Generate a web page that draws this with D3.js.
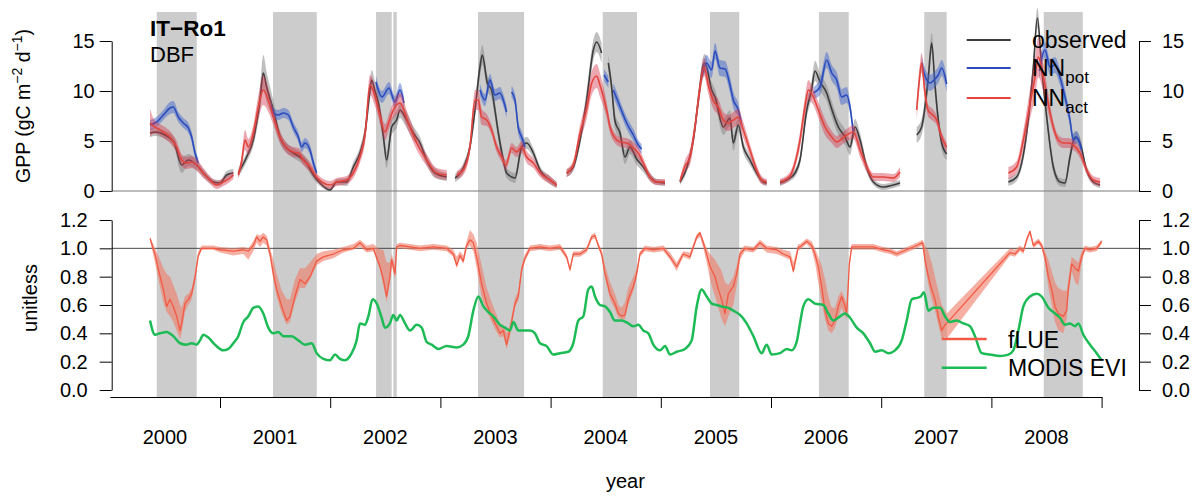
<!DOCTYPE html>
<html>
<head>
<meta charset="utf-8">
<script src="https://cdn.jsdelivr.net/npm/d3@7"></script>
<style>
  body { margin: 0; background: #fff; }
  text { font-family: "Liberation Sans", Arial, Helvetica, sans-serif; fill: #000; }
</style>
</head>
<body>
<svg id="chart" width="1201" height="496"></svg>
<script>
// ---- site / labels ----
const siteName = "IT\u2212Ro1";
const pftName = "DBF";
const yearLabels = [2000, 2001, 2002, 2003, 2004, 2005, 2006, 2007, 2008];
const yearBreaks = [2001, 2002, 2003, 2004, 2005, 2006, 2007, 2008, 2009];
const gppTicks = [0, 5, 10, 15];
const unitTicks = [0, 0.2, 0.4, 0.6, 0.8, 1.0, 1.2];

// ---- drought periods (decimal year) ----
const droughtStart = [2000.426, 2001.481, 2002.416, 2002.573, 2003.341, 2004.473, 2005.446, 2006.435, 2007.391, 2008.475];
const droughtEnd   = [2000.789, 2001.878, 2002.558, 2002.604, 2003.759, 2004.784, 2005.712, 2006.705, 2007.594, 2008.829];

// ---- GPP series: [decimal year, value, half-range]; null = data gap ----
const gppObserved = [
 [2000.365,5.8,0.4],[2000.416,5.9,0.4],[2000.501,5.6,0.4],[2000.582,4.9,0.5],[2000.652,2.6,0.8],[2000.713,3.1,0.6],[2000.788,2.6,0.5],[2000.849,1.8,0.4],[2000.939,0.9,0.3],[2001.000,0.8,0.3],[2001.060,1.6,0.4],[2001.121,1.8,0.4],
 null,
 [2001.166,1.8,0.4],[2001.242,3.4,0.5],[2001.302,5.1,0.6],[2001.363,9.1,1.2],[2001.393,11.8,1.8],[2001.423,10.4,1.5],[2001.484,8.1,1.0],[2001.544,5.4,0.6],[2001.605,4.3,0.5],[2001.665,3.8,0.5],[2001.726,3.4,0.5],[2001.786,2.8,0.5],[2001.847,1.6,0.4],[2001.907,0.8,0.3],[2001.998,0.1,0.3],[2002.059,0.9,0.3],[2002.149,0.9,0.4],[2002.210,2.4,0.5],[2002.270,3.8,0.6],[2002.316,5.8,0.8],[2002.355,9.5,1.0],[2002.376,11.1,1.0],[2002.406,10.0,1.0],[2002.437,8.8,1.0],[2002.482,5.5,0.8],[2002.512,3.1,0.8],[2002.558,6.4,0.8],[2002.603,7.1,0.8],[2002.633,8.1,0.8],[2002.679,7.4,0.8],[2002.754,5.8,0.7],[2002.815,4.8,0.6],[2002.875,3.1,0.5],[2002.951,1.8,0.5],[2003.057,1.4,0.4],
 null,
 [2003.133,1.3,0.4],[2003.208,2.3,0.5],[2003.268,4.4,0.6],[2003.314,8.1,0.8],[2003.359,12.4,1.0],[2003.380,13.6,1.0],[2003.426,10.8,0.8],[2003.465,10.1,0.8],[2003.495,8.1,0.8],[2003.526,5.8,0.7],[2003.571,3.1,0.6],[2003.601,1.8,0.5],[2003.677,1.3,0.5],[2003.737,4.4,0.6],[2003.783,4.8,0.6],[2003.843,3.8,0.5],[2003.904,2.1,0.4],[2003.994,1.1,0.4],[2004.055,0.6,0.3],
 null,
 [2004.146,1.8,0.4],[2004.206,2.4,0.4],[2004.267,5.1,0.6],[2004.327,9.1,1.0],[2004.388,14.1,1.0],[2004.418,14.9,1.0],[2004.463,13.8,1.0],
 null,
 [2004.524,12.8,0.8],[2004.554,10.4,0.8],[2004.584,7.0,0.8],[2004.630,5.8,0.7],[2004.675,3.4,0.7],[2004.720,4.4,0.7],[2004.781,3.2,0.6],[2004.841,2.4,0.5],[2004.902,1.4,0.4],[2004.962,0.9,0.3],[2005.038,0.8,0.3],
 null,
 [2005.174,0.9,0.3],[2005.235,2.3,0.4],[2005.295,5.1,0.6],[2005.341,9.1,0.8],[2005.386,12.6,0.9],[2005.401,12.8,0.9],[2005.462,10.1,0.8],[2005.492,9.4,0.8],[2005.568,6.4,0.8],[2005.628,7.3,0.8],[2005.658,4.8,0.8],[2005.703,6.6,0.7],[2005.749,4.4,0.6],[2005.809,3.1,0.5],[2005.870,1.8,0.4],[2005.930,0.9,0.3],[2005.961,0.8,0.3],
 null,
 [2006.082,0.8,0.3],[2006.172,1.3,0.3],[2006.218,1.8,0.4],[2006.263,3.1,0.5],[2006.324,8.1,0.8],[2006.369,10.2,0.9],[2006.399,12.0,1.0],[2006.445,10.9,0.9],[2006.505,9.8,0.8],[2006.551,8.2,0.8],[2006.611,6.4,0.8],[2006.672,5.4,0.8],[2006.717,4.4,0.8],[2006.763,6.4,0.8],[2006.808,5.1,0.7],[2006.868,2.4,0.5],[2006.929,0.9,0.3],[2007.019,0.4,0.3],[2007.110,0.6,0.3],[2007.171,0.8,0.3],
 null,
 [2007.322,5.6,0.8],[2007.367,6.4,0.8],[2007.428,11.4,1.0],[2007.458,14.8,1.0],[2007.488,10.6,1.0],[2007.518,7.1,0.8],[2007.549,4.8,0.7],[2007.594,3.7,0.6],
 null,
 [2008.154,0.9,0.4],[2008.229,1.4,0.4],[2008.320,5.8,0.8],[2008.381,12.4,1.0],[2008.417,17.3,1.0],[2008.456,12.4,1.0],[2008.502,7.4,0.8],[2008.562,2.4,0.6],[2008.622,0.9,0.4],[2008.668,0.8,0.4],[2008.713,3.4,0.6],[2008.759,5.4,0.6],[2008.804,4.8,0.6],[2008.864,2.1,0.4],[2008.925,0.9,0.3],[2008.986,0.6,0.3]
];

// NN potential GPP, shown where it departs from the actual-GPP network
const gppNNpot = [
 [2000.365,6.6,0.5],[2000.425,6.9,0.5],[2000.486,7.6,0.5],[2000.546,8.3,0.6],[2000.576,8.4,0.6],[2000.622,7.4,0.5],[2000.667,6.8,0.5],[2000.713,6.3,0.5],[2000.743,5.4,0.5],[2000.773,3.8,0.5],[2000.803,2.8,0.5],
 null,
 [2001.460,8.6,0.6],[2001.484,7.8,0.5],[2001.529,7.6,0.5],[2001.575,7.8,0.5],[2001.620,7.6,0.5],[2001.665,6.4,0.5],[2001.711,5.4,0.5],[2001.741,4.4,0.5],[2001.771,4.8,0.5],[2001.817,4.1,0.5],[2001.847,2.8,0.5],[2001.877,1.8,0.4],
 null,
 [2002.415,10.9,0.6],[2002.470,9.4,0.6],[2002.533,10.3,0.6],[2002.588,8.9,0.6],[2002.633,10.1,0.7],[2002.670,8.8,0.6],
 null,
 [2003.359,10.1,0.6],[2003.405,9.1,0.6],[2003.450,11.1,0.6],[2003.495,9.6,0.6],[2003.541,9.8,0.6],[2003.571,9.1,0.6],[2003.601,7.9,0.6],
 null,
 [2003.646,9.9,0.6],[2003.677,9.1,0.6],[2003.707,6.3,0.6],[2003.737,5.4,0.6],[2003.768,4.4,0.5],
 null,
 [2004.485,11.6,0.6],[2004.524,10.9,0.6],
 null,
 [2004.569,10.1,0.7],[2004.599,9.3,0.7],[2004.645,8.0,0.6],[2004.690,6.8,0.6],[2004.751,5.6,0.6],[2004.796,4.6,0.5],[2004.826,4.2,0.5],
 null,
 [2005.371,11.4,0.6],[2005.416,12.8,0.8],[2005.462,12.1,0.8],[2005.492,14.0,0.8],[2005.537,12.3,0.8],[2005.583,12.2,0.8],[2005.628,10.6,0.8],[2005.658,9.1,0.8],[2005.703,8.1,0.7],[2005.734,6.6,0.6],
 null,
 [2006.384,9.8,0.6],[2006.445,10.4,0.8],[2006.505,13.1,0.8],[2006.551,11.8,0.8],[2006.596,11.1,0.8],[2006.641,9.4,0.8],[2006.687,9.6,0.8],[2006.717,8.4,0.6],[2006.747,5.8,0.6],
 null,
 [2007.367,12.8,0.8],[2007.397,11.5,0.8],[2007.443,10.8,0.8],[2007.488,11.2,0.8],[2007.518,11.6,0.8],[2007.549,12.3,0.8],[2007.594,10.7,0.8],
 null,
 [2008.435,12.0,0.8],[2008.486,14.1,0.8],[2008.532,12.4,0.8],[2008.577,12.6,0.8],[2008.622,11.4,0.8],[2008.668,9.4,0.8],[2008.713,7.1,0.6],[2008.743,5.1,0.6],[2008.773,5.4,0.6],[2008.819,4.1,0.5]
];

const gppNNact = [
 [2000.365,6.8,1.4],[2000.395,6.5,0.8],[2000.425,6.3,0.6],[2000.486,5.9,0.6],[2000.546,5.4,0.6],[2000.607,4.4,0.6],[2000.652,3.1,0.6],[2000.697,2.8,0.6],[2000.743,2.9,0.6],[2000.788,2.6,0.6],[2000.849,1.8,0.5],[2000.909,1.1,0.4],[2000.970,0.6,0.4],[2001.030,0.9,0.4],[2001.091,1.3,0.4],[2001.121,1.6,0.4],
 null,
 [2001.166,1.6,0.4],[2001.197,3.0,0.6],[2001.227,5.1,1.0],[2001.257,4.4,0.8],[2001.302,5.8,0.8],[2001.348,8.4,1.2],[2001.393,10.1,1.5],[2001.438,9.1,1.2],[2001.484,7.4,0.8],[2001.544,5.4,0.6],[2001.605,4.3,0.5],[2001.665,3.9,0.5],[2001.711,3.8,0.5],[2001.756,3.1,0.5],[2001.817,2.4,0.5],[2001.877,1.4,0.4],[2001.938,0.8,0.4],[2001.998,0.6,0.4],[2002.059,0.9,0.4],[2002.149,1.1,0.4],[2002.210,1.8,0.5],[2002.270,3.4,0.6],[2002.316,5.6,0.8],[2002.361,10.6,1.0],[2002.406,9.5,1.0],[2002.452,7.5,0.8],[2002.497,5.9,0.8],[2002.536,7.0,0.8],[2002.573,8.1,0.8],[2002.633,8.8,1.0],[2002.709,6.8,0.8],[2002.785,4.8,0.7],[2002.875,3.1,0.6],[2002.966,1.8,0.5],[2003.057,1.6,0.5],
 null,
 [2003.148,1.6,0.4],[2003.208,2.1,0.5],[2003.268,4.4,0.6],[2003.314,9.1,1.0],[2003.344,9.1,1.0],[2003.374,7.4,0.8],[2003.420,7.1,0.6],[2003.465,6.1,0.5],[2003.510,4.4,0.5],[2003.556,3.4,0.5],[2003.595,2.6,0.5],[2003.646,4.3,0.5],[2003.692,3.9,0.5],[2003.737,4.4,0.6],[2003.783,3.4,0.6],[2003.843,2.8,0.5],[2003.904,1.8,0.4],[2003.994,1.1,0.4],[2004.055,0.6,0.3],
 null,
 [2004.146,1.8,0.4],[2004.206,2.6,0.5],[2004.267,5.8,0.8],[2004.327,8.2,1.0],[2004.373,10.8,1.2],[2004.418,11.5,1.2],[2004.448,10.6,1.2],[2004.509,8.1,0.8],[2004.539,6.4,0.6],[2004.584,5.3,0.5],[2004.630,4.9,0.5],[2004.690,4.8,0.5],[2004.751,4.3,0.6],[2004.796,3.8,0.6],[2004.841,2.8,0.5],[2004.902,1.4,0.4],[2004.962,0.9,0.3],[2005.038,0.9,0.3],
 null,
 [2005.174,1.0,0.3],[2005.220,2.5,0.6],[2005.265,3.4,0.8],[2005.310,6.4,0.8],[2005.356,10.4,0.9],[2005.392,12.4,0.9],[2005.431,10.6,0.9],[2005.477,9.0,0.8],[2005.522,8.4,0.8],[2005.568,7.1,0.8],[2005.613,6.8,0.8],[2005.658,7.1,0.8],[2005.703,7.4,0.8],[2005.749,6.1,0.8],[2005.809,4.1,0.6],[2005.870,2.1,0.5],[2005.915,1.1,0.4],[2005.961,0.9,0.3],
 null,
 [2006.082,0.9,0.3],[2006.172,1.5,0.4],[2006.218,2.8,0.5],[2006.263,5.1,0.8],[2006.308,8.4,1.0],[2006.339,10.1,1.0],[2006.384,9.4,0.8],[2006.430,8.1,0.8],[2006.490,6.4,0.8],[2006.551,5.4,0.6],[2006.596,4.9,0.6],[2006.641,5.2,0.6],[2006.687,5.6,0.6],[2006.747,5.9,0.7],[2006.808,4.1,0.7],[2006.868,2.4,0.5],[2006.929,1.4,0.4],[2007.019,1.4,0.4],[2007.110,1.3,0.4],[2007.171,1.9,0.5],
 null,
 [2007.322,8.1,1.0],[2007.345,11.0,1.0],[2007.367,12.8,1.0],[2007.397,9.8,0.8],[2007.428,8.0,0.6],[2007.458,7.7,0.6],[2007.503,7.1,0.5],[2007.549,5.4,0.5],[2007.594,4.4,0.5],
 null,
 [2008.154,1.8,0.6],[2008.229,2.4,0.6],[2008.290,5.1,1.0],[2008.350,8.7,1.5],[2008.396,11.4,2.0],[2008.426,13.4,2.0],[2008.471,11.4,1.5],[2008.517,8.7,1.0],[2008.562,6.4,0.6],[2008.607,5.1,0.5],[2008.653,4.8,0.5],[2008.698,4.8,0.5],[2008.743,4.6,0.5],[2008.804,3.8,0.5],[2008.864,2.1,0.4],[2008.925,1.1,0.4],[2008.986,0.9,0.4]
];

// ---- fLUE: [decimal year, value, lower, upper] ----
const fLUE = [
 [2000.365,1.07,1.05,1.08],[2000.410,0.96,0.90,1.00],[2000.441,0.85,0.78,0.95],[2000.486,0.71,0.62,0.86],[2000.516,0.59,0.55,0.82],[2000.546,0.64,0.52,0.80],[2000.576,0.59,0.48,0.74],[2000.607,0.52,0.42,0.68],[2000.637,0.42,0.36,0.60],[2000.652,0.47,0.40,0.58],[2000.682,0.61,0.55,0.66],[2000.713,0.64,0.60,0.68],[2000.743,0.68,0.64,0.72],[2000.773,0.79,0.76,0.83],[2000.803,0.95,0.93,0.98],[2000.834,1.00,0.99,1.02],[2000.940,1.00,0.99,1.02],
 [2001.000,0.99,0.97,1.01],[2001.121,0.98,0.95,1.00],[2001.212,0.99,0.96,1.01],[2001.257,0.98,0.92,1.00],[2001.302,1.02,0.98,1.05],[2001.333,1.08,1.04,1.10],[2001.363,1.05,1.01,1.09],[2001.393,1.08,1.04,1.11],[2001.423,1.06,1.02,1.09],[2001.454,0.96,0.93,1.00],[2001.484,0.82,0.78,0.92],[2001.514,0.71,0.66,0.82],[2001.560,0.59,0.54,0.70],[2001.605,0.49,0.46,0.64],[2001.635,0.52,0.48,0.64],[2001.680,0.66,0.62,0.78],[2001.726,0.78,0.72,0.86],[2001.771,0.75,0.72,0.86],[2001.817,0.80,0.78,0.90],[2001.877,0.91,0.88,0.96],[2001.938,0.94,0.91,0.98],
 [2002.028,0.96,0.93,0.99],[2002.119,0.99,0.97,1.01],[2002.210,1.00,0.99,1.03],[2002.270,1.04,1.01,1.06],[2002.331,0.99,0.97,1.02],[2002.391,1.00,0.98,1.03],[2002.452,0.87,0.85,0.99],[2002.482,0.78,0.74,0.99],[2002.512,0.66,0.62,0.90],[2002.542,0.80,0.76,0.90],[2002.558,0.92,0.88,0.96],[2002.588,0.82,0.78,0.88],[2002.603,1.01,0.99,1.03],[2002.633,1.02,1.00,1.04],[2002.724,1.01,0.99,1.03],[2002.815,1.00,0.98,1.02],[2002.936,1.01,0.99,1.03],
 [2003.057,1.00,0.98,1.02],[2003.117,0.96,0.94,0.99],[2003.148,0.88,0.86,0.94],[2003.178,0.95,0.93,0.98],[2003.208,0.91,0.89,0.95],[2003.238,1.02,1.00,1.05],[2003.268,1.06,1.02,1.13],[2003.299,1.04,0.98,1.10],[2003.329,0.94,0.86,1.04],[2003.374,0.75,0.66,0.88],[2003.420,0.61,0.56,0.72],[2003.465,0.52,0.48,0.62],[2003.510,0.45,0.41,0.53],[2003.541,0.40,0.37,0.46],[2003.571,0.42,0.38,0.46],[2003.601,0.32,0.29,0.40],[2003.631,0.42,0.38,0.46],[2003.677,0.61,0.58,0.65],[2003.707,0.66,0.63,0.70],[2003.737,0.85,0.82,0.88],[2003.768,0.93,0.91,0.96],[2003.813,1.00,0.98,1.02],[2003.904,1.01,0.99,1.03],[2003.994,1.00,0.98,1.02],
 [2004.085,1.01,0.99,1.03],[2004.146,0.94,0.92,0.96],[2004.176,0.85,0.83,0.87],[2004.206,0.96,0.94,0.98],[2004.267,0.96,0.94,0.98],[2004.327,0.99,0.97,1.01],[2004.373,1.08,1.06,1.10],[2004.403,1.09,1.07,1.11],[2004.433,1.02,1.00,1.04],[2004.463,0.96,0.94,0.99],[2004.494,0.82,0.79,0.88],[2004.539,0.68,0.64,0.76],[2004.584,0.61,0.57,0.68],[2004.615,0.54,0.51,0.60],[2004.645,0.52,0.50,0.58],[2004.675,0.53,0.50,0.62],[2004.705,0.64,0.60,0.72],[2004.751,0.73,0.70,0.80],[2004.781,0.82,0.79,0.86],[2004.811,0.96,0.94,0.98],[2004.857,1.00,0.98,1.02],[2004.932,0.99,0.97,1.01],
 [2005.023,1.00,0.98,1.02],[2005.084,0.94,0.92,0.97],[2005.144,0.87,0.84,0.90],[2005.204,0.96,0.94,0.98],[2005.265,0.94,0.92,0.97],[2005.326,1.08,1.06,1.10],[2005.356,1.11,1.08,1.12],[2005.386,1.04,1.00,1.06],[2005.416,0.96,0.90,1.00],[2005.447,0.87,0.78,0.96],[2005.492,0.80,0.66,0.92],[2005.522,0.71,0.58,0.88],[2005.552,0.64,0.50,0.84],[2005.583,0.54,0.45,0.76],[2005.613,0.68,0.52,0.74],[2005.658,0.73,0.60,0.80],[2005.689,0.82,0.74,0.88],[2005.719,0.96,0.92,0.99],[2005.764,1.00,0.98,1.02],[2005.840,0.99,0.97,1.01],[2005.900,1.04,1.01,1.06],[2005.961,1.00,0.97,1.02],
 [2006.051,0.99,0.96,1.01],[2006.112,0.96,0.94,0.99],[2006.172,0.94,0.92,0.98],[2006.203,0.84,0.82,0.90],[2006.248,1.01,0.99,1.03],[2006.263,1.01,0.99,1.03],[2006.324,1.05,1.03,1.07],[2006.369,1.02,0.99,1.05],[2006.399,0.96,0.90,1.00],[2006.429,0.87,0.76,0.94],[2006.460,0.73,0.62,0.88],[2006.490,0.56,0.50,0.78],[2006.520,0.47,0.42,0.66],[2006.551,0.45,0.40,0.58],[2006.581,0.49,0.44,0.58],[2006.611,0.59,0.52,0.66],[2006.641,0.66,0.58,0.70],[2006.672,0.59,0.52,0.64],[2006.687,0.54,0.50,0.60],[2006.711,0.89,0.86,0.92],[2006.732,1.01,0.99,1.03],[2006.808,1.01,0.99,1.03],[2006.929,1.01,0.99,1.03],
 [2007.019,0.99,0.97,1.01],[2007.080,0.98,0.96,1.00],[2007.141,0.96,0.94,0.98],[2007.231,0.99,0.97,1.01],[2007.322,1.02,1.00,1.04],[2007.376,1.04,1.02,1.06],[2007.397,0.92,0.88,1.02],[2007.428,0.80,0.74,0.98],[2007.458,0.71,0.64,0.90],[2007.488,0.64,0.56,0.80],[2007.518,0.52,0.46,0.70],[2007.549,0.42,0.36,0.60],[2007.579,0.46,0.38,0.56],[2007.594,0.47,0.36,0.54],
 [2008.169,0.97,0.95,1.00],[2008.214,0.96,0.94,0.99],[2008.260,1.00,0.98,1.02],[2008.290,0.98,0.96,1.00],[2008.320,1.06,1.04,1.08],[2008.350,1.12,1.10,1.13],[2008.381,1.02,1.00,1.04],[2008.426,1.05,1.03,1.07],[2008.456,1.02,1.00,1.04],[2008.486,0.94,0.90,0.98],[2008.517,0.80,0.72,0.92],[2008.547,0.71,0.60,0.84],[2008.577,0.59,0.48,0.76],[2008.607,0.54,0.42,0.72],[2008.653,0.52,0.40,0.70],[2008.683,0.56,0.50,0.70],[2008.698,0.71,0.66,0.78],[2008.728,0.89,0.84,0.94],[2008.759,0.86,0.76,0.92],[2008.789,0.84,0.74,0.90],[2008.819,0.94,0.90,0.98],[2008.849,1.00,0.98,1.02],[2008.895,0.99,0.97,1.01],[2008.955,1.00,0.98,1.02],[2009.001,1.05,1.03,1.06]
];

// ---- MODIS EVI: [decimal year, value] ----
const modisEVI = [
 [2000.365,0.49],[2000.410,0.39],[2000.456,0.40],[2000.516,0.41],[2000.576,0.38],[2000.637,0.33],[2000.697,0.32],[2000.743,0.33],[2000.788,0.32],[2000.818,0.35],[2000.849,0.39],[2000.894,0.37],[2000.954,0.32],
 [2001.030,0.28],[2001.076,0.29],[2001.121,0.33],[2001.166,0.38],[2001.212,0.48],[2001.257,0.52],[2001.302,0.58],[2001.348,0.59],[2001.393,0.54],[2001.438,0.44],[2001.484,0.40],[2001.529,0.41],[2001.575,0.38],[2001.650,0.38],[2001.711,0.35],[2001.771,0.32],[2001.832,0.33],[2001.877,0.26],[2001.938,0.22],[2001.998,0.21],
 [2002.044,0.25],[2002.089,0.22],[2002.134,0.21],[2002.195,0.26],[2002.240,0.35],[2002.270,0.47],[2002.316,0.46],[2002.346,0.52],[2002.385,0.64],[2002.422,0.61],[2002.467,0.51],[2002.497,0.44],[2002.542,0.47],[2002.573,0.53],[2002.603,0.49],[2002.633,0.53],[2002.679,0.47],[2002.724,0.42],[2002.785,0.46],[2002.830,0.44],[2002.875,0.34],[2002.921,0.32],[2002.981,0.29],
 [2003.057,0.31],[2003.148,0.30],[2003.208,0.32],[2003.253,0.38],[2003.299,0.56],[2003.344,0.66],[2003.390,0.59],[2003.435,0.55],[2003.480,0.52],[2003.541,0.46],[2003.586,0.44],[2003.631,0.42],[2003.662,0.48],[2003.707,0.42],[2003.768,0.42],[2003.813,0.42],[2003.858,0.40],[2003.904,0.33],[2003.964,0.31],
 [2004.025,0.25],[2004.085,0.26],[2004.161,0.27],[2004.206,0.33],[2004.251,0.49],[2004.297,0.52],[2004.342,0.71],[2004.373,0.73],[2004.403,0.66],[2004.448,0.60],[2004.494,0.59],[2004.539,0.55],[2004.584,0.49],[2004.645,0.49],[2004.705,0.47],[2004.751,0.45],[2004.796,0.46],[2004.841,0.42],[2004.887,0.40],[2004.932,0.32],[2004.993,0.28],
 [2005.038,0.31],[2005.084,0.25],[2005.144,0.27],[2005.220,0.29],[2005.280,0.35],[2005.326,0.59],[2005.371,0.71],[2005.416,0.66],[2005.462,0.61],[2005.507,0.60],[2005.552,0.59],[2005.613,0.58],[2005.658,0.56],[2005.719,0.53],[2005.779,0.47],[2005.840,0.38],[2005.915,0.26],[2005.961,0.32],
 [2006.006,0.25],[2006.082,0.26],[2006.142,0.29],[2006.187,0.28],[2006.233,0.34],[2006.263,0.47],[2006.293,0.59],[2006.339,0.64],[2006.399,0.61],[2006.475,0.60],[2006.520,0.54],[2006.566,0.49],[2006.626,0.52],[2006.672,0.54],[2006.717,0.51],[2006.778,0.44],[2006.838,0.40],[2006.899,0.33],[2006.944,0.27],
 [2007.005,0.28],[2007.065,0.26],[2007.126,0.28],[2007.186,0.35],[2007.231,0.49],[2007.277,0.64],[2007.322,0.65],[2007.358,0.66],[2007.388,0.69],[2007.428,0.56],[2007.473,0.58],[2007.534,0.58],[2007.579,0.52],[2007.624,0.48],[2007.685,0.49],[2007.745,0.47],[2007.806,0.45],[2007.851,0.38],[2007.912,0.26],[2007.987,0.25],
 [2008.078,0.24],[2008.154,0.25],[2008.199,0.28],[2008.245,0.42],[2008.290,0.59],[2008.350,0.66],[2008.411,0.68],[2008.456,0.66],[2008.517,0.58],[2008.577,0.54],[2008.622,0.51],[2008.668,0.46],[2008.713,0.47],[2008.759,0.45],[2008.789,0.47],[2008.834,0.39],[2008.895,0.32],[2008.955,0.26],[2009.001,0.21]
];

// ---- layout ----
const svg = d3.select("#chart");
const plotLeft = 111.7, plotRight = 1139, plotTop = 12, plotBottom = 397;

const x = d3.scaleLinear().domain([2000, 2009]).range([109.8, 1101.6]);
const yG = d3.scaleLinear().domain([0, 15]).range([191, 41]);
const yU = d3.scaleLinear().domain([0, 1.2]).range([390, 220]);

// drought shading across both panels
svg.append("g").selectAll("rect")
  .data(droughtStart.map((s, i) => [s, droughtEnd[i]]))
  .join("rect")
  .attr("x", d => x(d[0]))
  .attr("width", d => x(d[1]) - x(d[0]))
  .attr("y", plotTop)
  .attr("height", plotBottom - plotTop)
  .attr("fill", "#cccccc");

// reference lines
svg.append("line")
  .attr("x1", plotLeft).attr("x2", plotRight)
  .attr("y1", yG(0)).attr("y2", yG(0))
  .attr("stroke", "#7a7a7a").attr("stroke-width", 1);
svg.append("line")
  .attr("x1", plotLeft).attr("x2", plotRight)
  .attr("y1", yU(1)).attr("y2", yU(1))
  .attr("stroke", "#4a4a4a").attr("stroke-width", 1);

// ---- GPP panel ----
const gTop = svg.append("g");
function gppSeries(data, lineColor, bandColor, bandOpacity) {
  const area = d3.area()
    .defined(d => d !== null)
    .x(d => x(d[0]))
    .y0(d => yG(Math.max(0, d[1] - d[2])))
    .y1(d => yG(d[1] + d[2]))
    .curve(d3.curveMonotoneX);
  const line = d3.line()
    .defined(d => d !== null)
    .x(d => x(d[0]))
    .y(d => yG(d[1]))
    .curve(d3.curveMonotoneX);
  gTop.append("path").datum(data).attr("d", area)
    .attr("fill", bandColor).attr("fill-opacity", bandOpacity);
  gTop.append("path").datum(data).attr("d", line)
    .attr("fill", "none").attr("stroke", lineColor).attr("stroke-width", 1.6)
    .attr("stroke-linejoin", "round");
}
gppSeries(gppObserved, "#3c3c3c", "#8a8a8a", 0.55);
gppSeries(gppNNpot, "#2b4cbd", "#4466cc", 0.5);
gppSeries(gppNNact, "#e3453c", "#d63c52", 0.45);

// ---- fLUE / EVI panel ----
const gBot = svg.append("g");
gBot.append("path").datum(fLUE)
  .attr("d", d3.area().x(d => x(d[0])).y0(d => yU(d[2])).y1(d => yU(d[3])))
  .attr("fill", "#f07a66").attr("fill-opacity", 0.6);
gBot.append("path").datum(fLUE)
  .attr("d", d3.line().x(d => x(d[0])).y(d => yU(d[1])))
  .attr("fill", "none").attr("stroke", "#f25a44").attr("stroke-width", 1.3)
  .attr("stroke-linejoin", "round");
gBot.append("path").datum(modisEVI)
  .attr("d", d3.line().x(d => x(d[0])).y(d => yU(d[1])).curve(d3.curveMonotoneX))
  .attr("fill", "none").attr("stroke", "#1dbb55").attr("stroke-width", 2.5)
  .attr("stroke-linejoin", "round");

// ---- axes ----
function styleAxis(g) {
  g.selectAll("path.domain").attr("stroke", "#000").attr("stroke-width", 1);
  g.selectAll(".tick line").attr("stroke", "#000").attr("stroke-width", 1);
  g.selectAll(".tick text").attr("font-size", 20)
    .attr("font-family", "'Liberation Sans', Arial, sans-serif").attr("fill", "#000");
}
svg.append("g").attr("transform", `translate(${plotLeft},0)`)
  .call(d3.axisLeft(yG).tickValues(gppTicks).tickSize(12).tickSizeOuter(0).tickPadding(5))
  .call(styleAxis);
svg.append("g").attr("transform", `translate(${plotRight},0)`)
  .call(d3.axisRight(yG).tickValues(gppTicks).tickSize(12).tickSizeOuter(0).tickPadding(11))
  .call(styleAxis);
const fmt1 = d3.format(".1f");
svg.append("g").attr("transform", `translate(${plotLeft},0)`)
  .call(d3.axisLeft(yU).tickValues(unitTicks).tickFormat(fmt1).tickSize(12).tickSizeOuter(0).tickPadding(12))
  .call(styleAxis);
svg.append("g").attr("transform", `translate(${plotRight},0)`)
  .call(d3.axisRight(yU).tickValues(unitTicks).tickFormat(fmt1).tickSize(12).tickSizeOuter(0).tickPadding(11))
  .call(styleAxis);
svg.append("g").attr("transform", `translate(0,${plotBottom})`)
  .call(d3.axisBottom(x).tickValues(yearBreaks).tickFormat("").tickSize(11).tickSizeOuter(0))
  .call(styleAxis);

// year labels centred in each year
svg.append("g").selectAll("text")
  .data(yearLabels).join("text")
  .attr("x", d => x(d + 0.5)).attr("y", 444)
  .attr("text-anchor", "middle").attr("font-size", 20)
  .text(d => d);

svg.append("text")
  .attr("x", (plotLeft + plotRight) / 2).attr("y", 488)
  .attr("text-anchor", "middle").attr("font-size", 20)
  .text("year");

// y-axis titles
const gppLab = svg.append("text")
  .attr("transform", "translate(30,106) rotate(-90)")
  .attr("text-anchor", "middle").attr("font-size", 19.5);
gppLab.append("tspan").text("GPP (gC m");
gppLab.append("tspan").attr("font-size", 14).attr("dy", -8).text("\u22122");
gppLab.append("tspan").attr("dy", 8).text(" d");
gppLab.append("tspan").attr("font-size", 14).attr("dy", -8).text("\u22121");
gppLab.append("tspan").attr("dy", 8).text(")");

svg.append("text")
  .attr("transform", "translate(37,298) rotate(-90)")
  .attr("text-anchor", "middle").attr("font-size", 20)
  .text("unitless");

// site title
svg.append("text").attr("x", 150).attr("y", 36)
  .attr("font-size", 22.5).attr("font-weight", "bold").text(siteName);
svg.append("text").attr("x", 150).attr("y", 62)
  .attr("font-size", 22).text(pftName);

// ---- legends ----
const topLegend = [
  { name: "NN", sub: null, label: "observed", color: "#3c3c3c", y: 40 },
  { name: "NN", sub: "pot", label: null, color: "#2b4cbd", y: 68 },
  { name: "NN", sub: "act", label: null, color: "#e3453c", y: 98 }
];
topLegend.forEach(d => {
  svg.append("line").attr("x1", 966.7).attr("x2", 1010.7)
    .attr("y1", d.y).attr("y2", d.y)
    .attr("stroke", d.color).attr("stroke-width", 2.2);
  const t = svg.append("text").attr("x", 1032).attr("y", d.y + 8).attr("font-size", 23);
  if (d.label) {
    t.text(d.label);
  } else {
    t.append("tspan").text(d.name);
    t.append("tspan").attr("font-size", 17).attr("dy", 7).text(d.sub);
  }
});

const botLegend = [
  { label: "fLUE", color: "#f25a44", y: 339 },
  { label: "MODIS EVI", color: "#1dbb55", y: 367.7 }
];
botLegend.forEach(d => {
  svg.append("line").attr("x1", 941.7).attr("x2", 986.7)
    .attr("y1", d.y).attr("y2", d.y)
    .attr("stroke", d.color).attr("stroke-width", 2.4);
  svg.append("text").attr("x", 1008).attr("y", d.y + 8.5)
    .attr("font-size", 23).text(d.label);
});
</script>
</body>
</html>
